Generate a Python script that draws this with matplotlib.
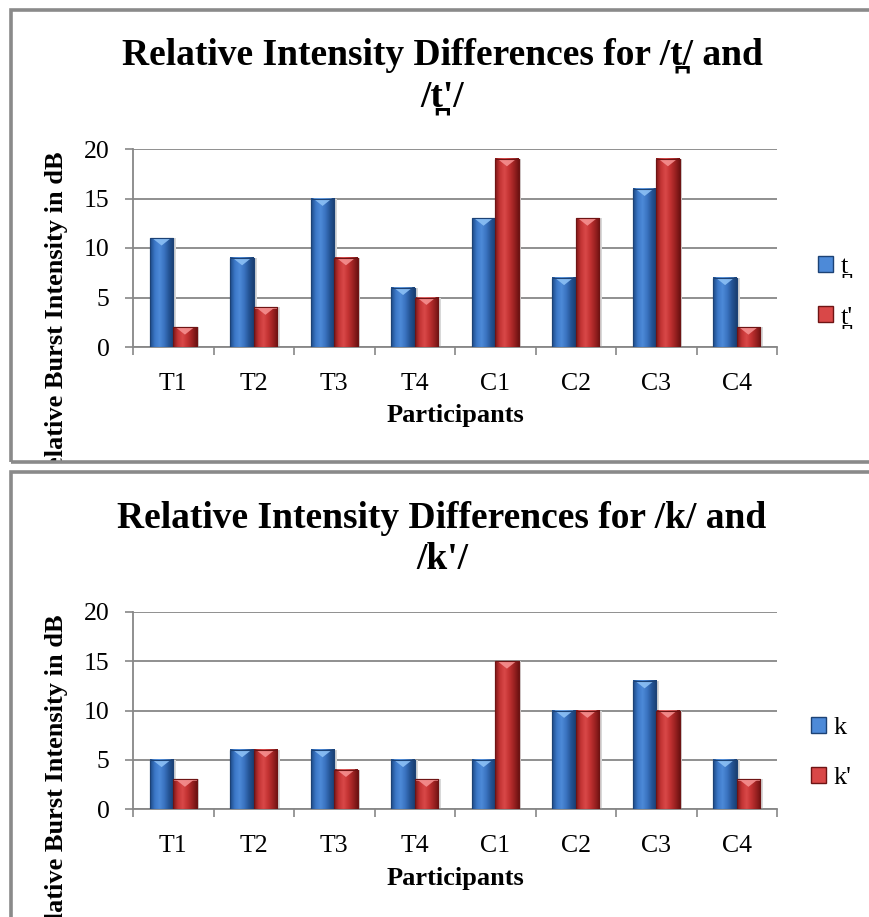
import numpy as np
import matplotlib.pyplot as plt
from matplotlib.colors import LinearSegmentedColormap
from matplotlib.patches import Rectangle, Polygon

participants = ['T1', 'T2', 'T3', 'T4', 'C1', 'C2', 'C3', 'C4']
t_plain = [11, 9, 15, 6, 13, 7, 16, 7]
t_ej = [2, 4, 9, 5, 19, 13, 19, 2]
k_plain = [5, 6, 6, 5, 5, 10, 13, 5]
k_ej = [3, 6, 4, 3, 15, 10, 10, 3]
y_ticks = [0, 5, 10, 15, 20]

W, H = 869, 917
SERIF = ['Liberation Serif', 'DejaVu Serif']
plt.rcParams['font.family'] = SERIF
GRAY = '#878787'

# colour ramps across a bar: dark edge -> light -> dark edge
BLUE = dict(ramp=['#1d4a86', '#3c78c8', '#4d8ad8', '#3a73c0', '#245495', '#1a3f72'],
            top='#8cc0f5', edge='#1c4275')
RED = dict(ramp=['#7e1717', '#c33434', '#d94848', '#c23232', '#9c2222', '#6e1212'],
           top='#f59090', edge='#6e1414')


def fx(px):
    return px / W


def fy(py):
    return 1 - py / H


def shaded_bars(ax, xs, vals, width, style):
    cmap = LinearSegmentedColormap.from_list('bar', style['ramp'])
    grad = np.linspace(0, 1, 64)[None, :]
    for x, v in zip(xs, vals):
        x0, x1 = x - width / 2, x + width / 2
        # soft shadow on the right
        ax.add_patch(Rectangle((x1, 0), width * 0.12, v, color='#d8d8d8', lw=0, zorder=2))
        ax.bar(x, v, width, color=style['ramp'][2], edgecolor=style['edge'], lw=0.8, zorder=3)
        ax.imshow(grad, cmap=cmap, extent=(x0, x1, 0, v), aspect='auto', zorder=3.5,
                  interpolation='bilinear')
        tip = min(0.75, v * 0.4)
        ax.add_patch(Polygon([(x0 + width * 0.1, v), (x1 - width * 0.1, v),
                              (x, v - tip)], closed=True, color=style['top'],
                             lw=0, alpha=0.9, zorder=4))
        ax.add_patch(Rectangle((x0, v - 0.12), width, 0.12, color=style['top'], lw=0,
                               alpha=0.7, zorder=4))
        ax.add_patch(Rectangle((x0, 0), width, v, fill=False, ec=style['edge'], lw=0.8,
                               zorder=4.5))


def panel(fig, box, ax_top, ax_bot, title, t_y, series, labels, leg_y, leg_x, xlab_y):
    frame = Rectangle((fx(box[0]), fy(box[3])), fx(box[2] - box[0]), fy(box[1]) - fy(box[3]),
                      transform=fig.transFigure, fill=False, ec='#8a8a8a', lw=2.6, zorder=10)
    fig.patches.append(frame)

    ax = fig.add_axes([fx(133), fy(ax_bot), fx(777 - 133), fy(ax_top) - fy(ax_bot)])
    x = np.arange(len(participants))
    width = 0.29
    shaded_bars(ax, x - width / 2, series[0], width, BLUE)
    shaded_bars(ax, x + width / 2, series[1], width, RED)

    ax.set_xlim(-0.5, len(participants) - 0.5)
    ax.set_ylim(0, 20)
    ax.set_yticks(y_ticks)
    ax.set_xticks(x)
    ax.set_xticklabels(participants)
    ax.set_xticks(np.arange(-0.5, len(participants), 1), minor=True)
    ax.tick_params(axis='x', which='major', length=0, pad=19, labelsize=18.5)
    ax.tick_params(axis='x', which='minor', length=6, width=1.2, color=GRAY)
    ax.tick_params(axis='y', length=6, width=1.2, color=GRAY, pad=11, labelsize=18.5)
    ax.yaxis.grid(True, color=GRAY, lw=1.3, zorder=0)
    ax.set_axisbelow(True)
    for s in ('top', 'right'):
        ax.spines[s].set_visible(False)
    for s in ('left', 'bottom'):
        ax.spines[s].set_color(GRAY)
        ax.spines[s].set_linewidth(1.3)

    fig.text(fx(442), fy(t_y), title, ha='center', va='center', fontsize=27,
             fontweight='bold', linespacing=1.25)
    fig.text(fx(455), fy(xlab_y), 'Participants', ha='center', va='center',
             fontsize=19, fontweight='bold')

    # long axis title runs past the frame and is cut by it
    ylab = fig.text(fx(57), fy(ax_top + 2), 'Relative Burst Intensity in dB', rotation=90,
                    ha='center', va='top', fontsize=19, fontweight='bold')
    ylab.set_clip_path(frame)

    handles = [Rectangle((0, 0), 1, 1, fc=BLUE['ramp'][2], ec=BLUE['edge']),
               Rectangle((0, 0), 1, 1, fc=RED['ramp'][2], ec=RED['edge'])]
    fig.legend(handles, labels, loc='center left', bbox_to_anchor=(fx(leg_x), fy(leg_y)),
               frameon=False, fontsize=19, handlelength=0.55, handleheight=0.55,
               handletextpad=0.3, labelspacing=1.05, borderpad=0, borderaxespad=0)
    return ax


fig = plt.figure(figsize=(W / 100, H / 100), dpi=100)

panel(fig, (11, 10, 900, 462), 149, 347,
      "Relative Intensity Differences for /t\u032a/ and\n/t\u032a'/", 76,
      (t_plain, t_ej), ['t\u032a', "t\u032a'"], 292, 818, 416)

panel(fig, (11, 472, 900, 960), 612, 809,
      "Relative Intensity Differences for /k/ and\n/k'/", 539,
      (k_plain, k_ej), ['k', "k'"], 753, 811, 878)

fig.savefig('out.png', dpi=100)
